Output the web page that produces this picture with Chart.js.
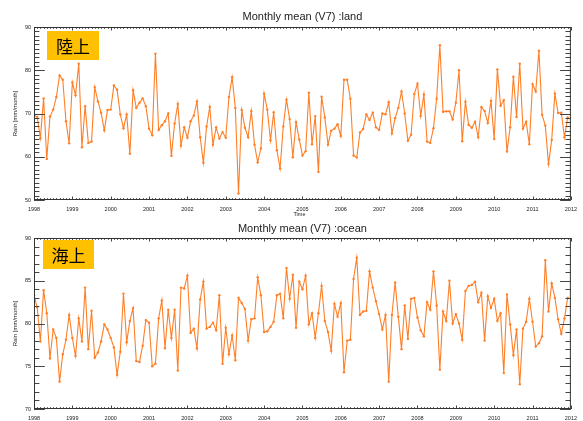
<!DOCTYPE html>
<html>
<head>
<meta charset="utf-8">
<script src="https://cdn.jsdelivr.net/npm/chart.js@4.4.1/dist/chart.umd.min.js"></script>
<style>
    html, body { margin: 0; padding: 0; background: #fff; }
    #wrap { position: relative; width: 583px; height: 421px; overflow: hidden; }
    canvas { position: absolute; left: 0; }
    #landChart { top: 0; }
    #oceanChart { top: 220px; }
</style>
</head>
<body>
<div id="wrap">
    <canvas id="landChart" width="583" height="220"></canvas>
    <canvas id="oceanChart" width="583" height="201"></canvas>
</div>
<script>
// Monthly rain, Jan 1998 .. Dec 2011 (mm/month)
const firstYear = 1998;
const yearTicks = [1998, 1999, 2000, 2001, 2002, 2003, 2004, 2005, 2006, 2007, 2008, 2009, 2010, 2011, 2012];

const landRain = [
    69.6, 69.2, 64.3, 73.5, 59.5, 69.3, 70.9, 73.8, 78.8, 77.8, 68.2, 63.1,
    77.2, 74.2, 81.5, 62.2, 71.7, 63.2, 63.5, 76.1, 72.8, 70.2, 66.1, 70.8,
    70.9, 76.5, 75.5, 69.8, 66.6, 69.8, 60.7, 75.4, 71.3, 72.5, 73.5, 71.7,
    66.5, 65.0, 83.8, 66.2, 67.3, 68.2, 70.0, 60.2, 67.7, 72.2, 62.6, 66.8,
    64.4, 68.2, 69.5, 72.8, 64.5, 58.6, 67.0, 71.5, 62.8, 66.8, 64.2, 65.7,
    64.4, 73.8, 78.4, 71.3, 51.5, 70.8, 66.7, 64.5, 70.6, 62.8, 58.7, 61.9,
    74.6, 70.9, 63.8, 70.3, 61.5, 57.3, 67.0, 73.2, 68.7, 59.9, 68.0, 64.0,
    60.3, 61.3, 74.8, 62.9, 69.4, 56.5, 73.9, 69.1, 62.8, 66.0, 66.5, 67.5,
    64.8, 77.8, 77.8, 73.4, 60.3, 59.8, 65.6, 66.4, 69.8, 68.5, 70.2, 66.8,
    66.2, 70.0, 69.8, 72.6, 65.4, 68.9, 71.3, 75.1, 70.0, 63.7, 65.1, 74.5,
    76.9, 69.4, 74.4, 63.5, 63.2, 66.6, 73.4, 85.8, 70.4, 70.5, 70.5, 68.6,
    72.5, 80.0, 63.6, 72.7, 67.4, 66.7, 68.1, 64.5, 71.5, 70.6, 67.8, 72.9,
    64.1, 80.2, 71.8, 73.1, 61.2, 66.8, 78.5, 69.2, 81.5, 66.5, 68.1, 62.9,
    76.8, 75.1, 84.5, 69.7, 67.2, 58.3, 63.9, 74.6, 70.1, 70.2, 64.5, 69.1
];

const oceanRain = [
    83.3, 81.9, 77.9, 83.9, 81.2, 75.9, 79.3, 78.3, 73.2, 76.4, 78.1, 81.0,
    78.3, 76.2, 80.6, 77.9, 84.2, 77.0, 81.5, 76.0, 76.6, 77.9, 79.9, 79.3,
    78.3, 77.2, 74.0, 76.7, 83.5, 77.8, 80.3, 81.8, 75.6, 75.5, 77.4, 80.4,
    80.1, 75.0, 75.3, 80.6, 82.7, 77.1, 81.6, 78.3, 81.6, 74.5, 84.2, 84.1,
    85.6, 78.9, 79.4, 77.1, 82.8, 84.9, 79.4, 79.6, 80.1, 79.2, 83.3, 75.3,
    79.5, 76.4, 78.6, 75.7, 83.0, 82.4, 81.7, 78.0, 80.5, 80.6, 85.4, 83.3,
    79.0, 79.1, 79.6, 80.2, 83.3, 83.5, 80.6, 86.5, 82.9, 85.7, 79.5, 84.9,
    84.0, 85.6, 79.9, 81.2, 78.3, 81.2, 84.4, 80.3, 79.0, 76.8, 82.3, 80.8,
    82.4, 74.3, 78.0, 78.1, 85.2, 87.7, 81.0, 81.4, 81.5, 86.1, 84.2, 82.6,
    81.1, 79.3, 81.0, 73.2, 81.0, 84.8, 80.8, 77.0, 82.1, 78.2, 82.9, 83.0,
    80.7, 79.2, 78.5, 82.5, 81.6, 86.1, 82.1, 74.6, 81.4, 80.3, 85.0, 80.0,
    81.1, 80.0, 78.1, 83.8, 84.4, 84.5, 84.9, 82.5, 83.6, 78.0, 83.2, 81.8,
    82.9, 80.3, 81.2, 74.2, 83.4, 79.9, 76.3, 79.3, 72.9, 79.4, 80.2, 82.9,
    80.2, 77.3, 77.7, 78.5, 87.4, 81.4, 84.7, 83.0, 80.5, 78.8, 80.6, 83.0
];

const lineColor = '#ff7f27';
Chart.defaults.font.family = '"Liberation Sans", Arial, Helvetica, sans-serif';

// one point per month, placed at year + month/12
function monthlyPoints(values) {
    return values.map((v, i) => ({ x: firstYear + i / 12, y: v }));
}

// IDL-like frame: box, inward ticks on all sides, titles and the yellow tag
const panelDecor = {
    id: 'panelDecor',
    afterDatasetsDraw(chart, args, o) {
        const { ctx, chartArea: a, scales: { x, y } } = chart;
        ctx.save();
        ctx.strokeStyle = '#444';
        ctx.lineWidth = 1;
        ctx.beginPath();
        const months = Math.round((x.max - x.min) * 12);
        for (let i = 0; i <= months; i++) {
            const px = Math.round(x.getPixelForValue(x.min + i / 12)) + 0.5;
            const len = i % 12 === 0 ? 3.5 : 1.8;
            ctx.moveTo(px, a.bottom); ctx.lineTo(px, a.bottom - len);
            ctx.moveTo(px, a.top); ctx.lineTo(px, a.top + len);
        }
        for (let v = y.min; v <= y.max; v++) {
            const py = Math.round(y.getPixelForValue(v)) + 0.5;
            const len = (v - y.min) % o.yMajor === 0 ? 10.8 : 5.4;
            ctx.moveTo(a.left, py); ctx.lineTo(a.left + len, py);
            ctx.moveTo(a.right, py); ctx.lineTo(a.right - len, py);
        }
        ctx.stroke();
        ctx.strokeStyle = '#333';
        ctx.strokeRect(a.left + 0.5, a.top + 0.5, a.width - 1, a.height - 1);
        ctx.restore();
    },
    afterDraw(chart, args, o) {
        const { ctx, chartArea: a } = chart;
        const cx = (a.left + a.right) / 2;
        ctx.save();
        ctx.fillStyle = '#222';
        ctx.textAlign = 'center';
        ctx.textBaseline = 'middle';
        ctx.font = '11px "Liberation Sans", Arial, sans-serif';
        ctx.fillText(o.title, cx, o.titleY);

        ctx.font = '5.5px "Liberation Sans", Arial, sans-serif';
        if (o.xTitle) ctx.fillText(o.xTitle, cx - 3, o.xTitleY);

        ctx.save();
        ctx.translate(15, (a.top + a.bottom) / 2);
        ctx.rotate(-Math.PI / 2);
        ctx.font = '6px "Liberation Sans", Arial, sans-serif';
        ctx.fillText('Rain [mm/month]', 0, 0);
        ctx.restore();

        const [bx, by, bw, bh] = o.tagBox;
        ctx.fillStyle = '#ffc000';
        ctx.fillRect(bx, by, bw, bh);
        ctx.fillStyle = '#000';
        ctx.font = '17px "Noto Sans CJK JP", sans-serif';
        ctx.fillText(o.tag, bx + bw / 2, by + bh / 2 + 1);
        ctx.restore();
    }
};

function makeChart(id, values, cfg) {
    const ctx = document.getElementById(id).getContext('2d');
    return new Chart(ctx, {
        type: 'line',
        data: {
            datasets: [{
                data: monthlyPoints(values),
                borderColor: lineColor,
                backgroundColor: lineColor,
                borderWidth: 1.1,
                pointRadius: 1.2,
                pointBorderWidth: 0,
                pointBackgroundColor: lineColor,
                tension: 0,
                fill: false
            }]
        },
        options: {
            responsive: false,
            animation: false,
            layout: { padding: { top: cfg.padTop, right: 7, left: 0, bottom: 0 } },
            plugins: {
                legend: { display: false },
                tooltip: { enabled: false },
                panelDecor: cfg
            },
            scales: {
                x: {
                    type: 'linear',
                    min: yearTicks[0],
                    max: yearTicks[yearTicks.length - 1],
                    afterFit: s => { s.height = cfg.xHeight; },
                    afterBuildTicks: s => { s.ticks = yearTicks.map(v => ({ value: v })); },
                    grid: { display: false, drawTicks: false },
                    border: { display: false },
                    ticks: {
                        autoSkip: false,
                        maxRotation: 0,
                        padding: 6,
                        color: '#222',
                        font: { size: 5.5 },
                        callback: v => String(v)
                    }
                },
                y: {
                    min: cfg.yMin,
                    max: cfg.yMax,
                    afterFit: s => { s.width = 34; },
                    grid: { display: false, drawTicks: false },
                    border: { display: false },
                    ticks: {
                        stepSize: cfg.yMajor,
                        padding: 3,
                        color: '#222',
                        font: { size: 5.5 }
                    }
                }
            }
        },
        plugins: [panelDecor]
    });
}

makeChart('landChart', landRain, {
    padTop: 27, xHeight: 20, yMin: 50, yMax: 90, yMajor: 10,
    title: 'Monthly mean (V7) :land', titleY: 17,
    xTitle: 'Time', xTitleY: 214,
    tag: '陸上', tagBox: [47, 31, 52, 29]
});

makeChart('oceanChart', oceanRain, {
    padTop: 18, xHeight: 12, yMin: 70, yMax: 90, yMajor: 5,
    title: 'Monthly mean (V7) :ocean', titleY: 9,
    tag: '海上', tagBox: [43, 20, 51, 29]
});
</script>
</body>
</html>
